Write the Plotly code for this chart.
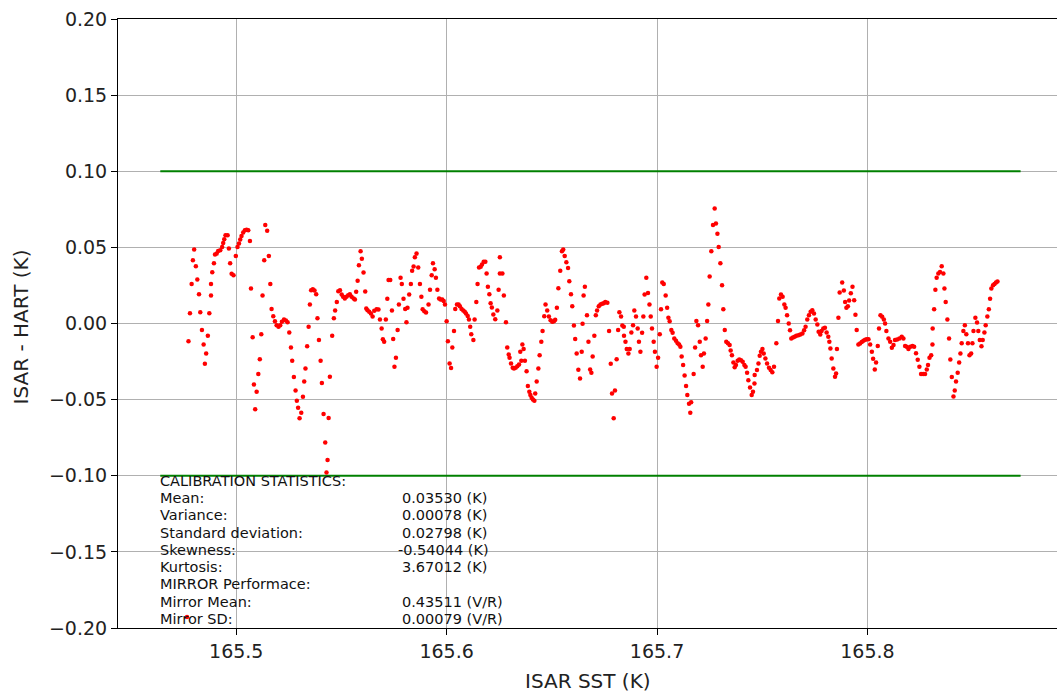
import plotly.graph_objects as go

# ISAR SST (K) and ISAR - HART difference (K) for each calibration sample
sst_k = [
    165.4773, 165.4780, 165.4788, 165.4794, 165.4800, 165.4808, 165.4815, 165.4823, 165.4829, 165.4837,
    165.4845, 165.4857, 165.4851, 165.4865, 165.4872, 165.4880, 165.4880, 165.4886, 165.4894, 165.4899,
    165.4907, 165.4914, 165.4924, 165.4933, 165.4938, 165.4943, 165.4949, 165.4959, 165.4965, 165.4971,
    165.4978, 165.4987, 165.4998, 165.5006, 165.5013, 165.5019, 165.5025, 165.5033,
    165.5041, 165.5049, 165.5057, 165.5065, 165.5070, 165.5078, 165.5084, 165.5090, 165.5097, 165.5105,
    165.5112, 165.5119, 165.5125, 165.5133, 165.5138, 165.5147, 165.5155, 165.5162, 165.5168, 165.5176,
    165.5184, 165.5192, 165.5201, 165.5209, 165.5217, 165.5227, 165.5236, 165.5244, 165.5252, 165.5260,
    165.5266, 165.5274, 165.5282, 165.5288, 165.5294, 165.5301, 165.5309, 165.5317, 165.5323, 165.5329,
    165.5337, 165.5344, 165.5350, 165.5356, 165.5364, 165.5372, 165.5380, 165.5386, 165.5393, 165.5401,
    165.5407, 165.5415, 165.5423, 165.5434, 165.5429, 165.5439, 165.5445,
    165.5456, 165.5464, 165.5470, 165.5478, 165.5485, 165.5493, 165.5501, 165.5508, 165.5516, 165.5524,
    165.5532, 165.5540, 165.5548, 165.5558, 165.5564, 165.5570, 165.5577, 165.5583, 165.5591, 165.5597,
    165.5605, 165.5613, 165.5618, 165.5624, 165.5632, 165.5640, 165.5648, 165.5656, 165.5667, 165.5676,
    165.5683, 165.5691, 165.5697, 165.5703, 165.5711, 165.5718, 165.5724, 165.5732, 165.5740, 165.5746,
    165.5752, 165.5759, 165.5767, 165.5773, 165.5781, 165.5787, 165.5795, 165.5803, 165.5809, 165.5814,
    165.5822, 165.5830, 165.5836, 165.5843, 165.5849,
    165.5857, 165.5865, 165.5873, 165.5880, 165.5886, 165.5894, 165.5902, 165.5914, 165.5921, 165.5929,
    165.5935, 165.5943, 165.5949, 165.5956, 165.5964, 165.5971, 165.5979, 165.5986, 165.5992, 165.6000,
    165.6006, 165.6014, 165.6021, 165.6027, 165.6035, 165.6041, 165.6049, 165.6057, 165.6063, 165.6071,
    165.6079, 165.6086, 165.6092, 165.6100, 165.6106, 165.6112, 165.6117, 165.6127, 165.6133, 165.6141,
    165.6147, 165.6154, 165.6162, 165.6168, 165.6176, 165.6184, 165.6190, 165.6196, 165.6203, 165.6209,
    165.6215, 165.6222, 165.6231, 165.6241, 165.6247, 165.6253, 165.6253,
    165.6265, 165.6272, 165.6282, 165.6288, 165.6295, 165.6299, 165.6306, 165.6314, 165.6320, 165.6328,
    165.6336, 165.6344, 165.6350, 165.6355, 165.6360, 165.6366, 165.6372, 165.6380, 165.6386, 165.6393,
    165.6398, 165.6404, 165.6410, 165.6417, 165.6421, 165.6428, 165.6436, 165.6442, 165.6450, 165.6456,
    165.6464, 165.6470, 165.6478, 165.6486, 165.6494, 165.6502, 165.6510, 165.6516, 165.6524, 165.6531,
    165.6540, 165.6548, 165.6554, 165.6561, 165.6569, 165.6577, 165.6583, 165.6591, 165.6597, 165.6605,
    165.6611, 165.6618, 165.6626, 165.6634, 165.6642, 165.6646, 165.6651, 165.6657,
    165.6667, 165.6674, 165.6682, 165.6688, 165.6694, 165.6702, 165.6709, 165.6715, 165.6723, 165.6731,
    165.6739, 165.6747, 165.6754, 165.6764, 165.6772, 165.6780, 165.6786, 165.6794, 165.6800, 165.6808,
    165.6815, 165.6821, 165.6829, 165.6835, 165.6842, 165.6843, 165.6850, 165.6856, 165.6864, 165.6870,
    165.6878, 165.6886, 165.6892, 165.6900, 165.6908, 165.6914, 165.6921, 165.6929, 165.6935, 165.6941,
    165.6949, 165.6957, 165.6964, 165.6970, 165.6976, 165.6984, 165.6990, 165.6998, 165.7005, 165.7013,
    165.7019, 165.7025, 165.7032, 165.7041, 165.7048, 165.7054, 165.7060,
    165.7068, 165.7074, 165.7082, 165.7090, 165.7098, 165.7105, 165.7111, 165.7117, 165.7124, 165.7131,
    165.7138, 165.7144, 165.7152, 165.7158, 165.7162, 165.7174, 165.7181, 165.7187, 165.7195, 165.7203,
    165.7209, 165.7217, 165.7223, 165.7231, 165.7238, 165.7244, 165.7250, 165.7258, 165.7266, 165.7274,
    165.7280, 165.7287, 165.7293, 165.7301, 165.7309, 165.7315, 165.7322, 165.7329, 165.7337, 165.7345,
    165.7350, 165.7356, 165.7363, 165.7369, 165.7375, 165.7383, 165.7391, 165.7399, 165.7407, 165.7415,
    165.7421, 165.7428, 165.7434, 165.7442, 165.7450, 165.7456, 165.7463, 165.7464,
    165.7475, 165.7482, 165.7488, 165.7494, 165.7501, 165.7507, 165.7515, 165.7523, 165.7532, 165.7540,
    165.7548, 165.7556, 165.7567, 165.7575, 165.7581, 165.7589, 165.7597, 165.7605, 165.7611, 165.7618,
    165.7626, 165.7632, 165.7638, 165.7646, 165.7654, 165.7662, 165.7672, 165.7681, 165.7691, 165.7699,
    165.7706, 165.7714, 165.7722, 165.7730, 165.7738, 165.7746, 165.7754, 165.7762, 165.7768, 165.7776,
    165.7782, 165.7790, 165.7798, 165.7806, 165.7814, 165.7819, 165.7824, 165.7830, 165.7838, 165.7846,
    165.7851, 165.7855, 165.7862, 165.7868,
    165.7880, 165.7888, 165.7894, 165.7900, 165.7907, 165.7913, 165.7921, 165.7929, 165.7937, 165.7943,
    165.7949, 165.7957, 165.7965, 165.7973, 165.7981, 165.7989, 165.7997, 165.8005, 165.8013, 165.8021,
    165.8027, 165.8035, 165.8041, 165.8049, 165.8055, 165.8062, 165.8070, 165.8078, 165.8084, 165.8090,
    165.8100, 165.8108, 165.8116, 165.8124, 165.8131, 165.8141, 165.8152, 165.8163, 165.8171, 165.8179,
    165.8187, 165.8195, 165.8204, 165.8214, 165.8222, 165.8231, 165.8239, 165.8247, 165.8255, 165.8265,
    165.8274,
    165.8282, 165.8288, 165.8295, 165.8303, 165.8309, 165.8310, 165.8317, 165.8323, 165.8329, 165.8337,
    165.8345, 165.8353, 165.8361, 165.8366, 165.8372, 165.8380, 165.8388, 165.8394, 165.8401, 165.8409,
    165.8415, 165.8421, 165.8429, 165.8436, 165.8442, 165.8448, 165.8456, 165.8463, 165.8470, 165.8478,
    165.8485, 165.8493, 165.8499, 165.8504, 165.8513, 165.8521, 165.8527, 165.8534, 165.8542, 165.8548,
    165.8556, 165.8562, 165.8570, 165.8577, 165.8583, 165.8589, 165.8597, 165.8604, 165.8611, 165.8618,
    165.4766,
]

diff_k = [
    -0.0116, 0.0068, 0.0260, 0.0416, 0.0486, 0.0376, 0.0289, 0.0192, 0.0074, -0.0042,
    -0.0138, -0.0197, -0.0265, -0.0081, 0.0068, 0.0184, 0.0260, 0.0337, 0.0396, 0.0453,
    0.0459, 0.0477, 0.0481, 0.0503, 0.0529, 0.0553, 0.0580, 0.0580, 0.0492, 0.0396,
    0.0326, 0.0317, 0.0444, 0.0503, 0.0525, 0.0551, 0.0575, 0.0597,
    0.0612, 0.0615, 0.0612, 0.0542, 0.0230, -0.0090, -0.0400, -0.0564, -0.0448, -0.0332,
    -0.0234, -0.0070, 0.0184, 0.0416, 0.0647, 0.0610, 0.0444, 0.0260, 0.0096, 0.0048,
    0.0015, -0.0011, -0.0022, -0.0011, 0.0011, 0.0026, 0.0020, 0.0009, -0.0059, -0.0157,
    -0.0245, -0.0352, -0.0440, -0.0507, -0.0553, -0.0623, -0.0586, -0.0481, -0.0381, -0.0295,
    -0.0149, -0.0022, 0.0125, 0.0219, 0.0225, 0.0217, 0.0192, 0.0035, -0.0109, -0.0245,
    -0.0391, -0.0595, -0.0781, -0.0897, -0.0978, -0.0621, -0.0350,
    -0.0081, 0.0035, 0.0085, 0.0142, 0.0212, 0.0219, 0.0190, 0.0175, 0.0164, 0.0175,
    0.0186, 0.0192, 0.0175, 0.0164, 0.0157, 0.0208, 0.0280, 0.0383, 0.0475, 0.0426,
    0.0335, 0.0210, 0.0098, 0.0087, 0.0077, 0.0066, 0.0046, 0.0083, 0.0094, 0.0092,
    0.0026, -0.0033, -0.0103, -0.0120, 0.0026, 0.0162, 0.0286, 0.0286, 0.0085, -0.0101,
    -0.0284, -0.0225, -0.0042, 0.0125, 0.0300, 0.0260, 0.0162, 0.0096, 0.0009, 0.0103,
    0.0190, 0.0260, 0.0346, 0.0374, 0.0435,
    0.0459, 0.0367, 0.0260, 0.0175, 0.0094, 0.0081, 0.0072, 0.0125, 0.0221, 0.0317,
    0.0396, 0.0356, 0.0300, 0.0221, 0.0164, 0.0157, 0.0157, 0.0147, 0.0125, 0.0015,
    -0.0116, -0.0262, -0.0293, -0.0157, -0.0050, 0.0096, 0.0125, 0.0125, 0.0114, 0.0096,
    0.0085, 0.0077, 0.0066, 0.0050, 0.0026, -0.0022, -0.0070, -0.0109, 0.0026, 0.0142,
    0.0260, 0.0367, 0.0372, 0.0387, 0.0405, 0.0405, 0.0328, 0.0241, 0.0192, 0.0133,
    0.0105, 0.0059, 0.0028, 0.0085, 0.0221, 0.0328, 0.0435,
    0.0328, 0.0184, 0.0009, -0.0157, -0.0203, -0.0225, -0.0262, -0.0291, -0.0295, -0.0291,
    -0.0280, -0.0269, -0.0186, -0.0245, -0.0138, -0.0168, -0.0245, -0.0313, -0.0411, -0.0448,
    -0.0470, -0.0488, -0.0499, -0.0507, -0.0459, -0.0381, -0.0295, -0.0208, -0.0120, -0.0050,
    0.0048, 0.0125, 0.0085, 0.0046, 0.0022, 0.0011, 0.0015, 0.0024, 0.0103, 0.0232,
    0.0346, 0.0475, 0.0486, 0.0444, 0.0402, 0.0365, 0.0278, 0.0192, 0.0114, -0.0013,
    -0.0101, -0.0197, -0.0304, -0.0361, -0.0186, -0.0002, 0.0184, 0.0241,
    0.0055, -0.0120, -0.0302, -0.0324, -0.0217, -0.0081, 0.0055, 0.0085, 0.0114, 0.0125,
    0.0129, 0.0133, 0.0142, 0.0136, -0.0050, -0.0265, -0.0459, -0.0623, -0.0440, -0.0234,
    -0.0042, 0.0074, 0.0046, -0.0013, -0.0022, -0.0081, -0.0120, -0.0168, -0.0197, -0.0168,
    -0.0059, -0.0011, 0.0085, 0.0046, -0.0033, -0.0120, -0.0186, -0.0061, 0.0046, 0.0190,
    0.0300, 0.0201, 0.0125, 0.0046, -0.0033, -0.0120, -0.0186, -0.0284, -0.0225, -0.0070,
    0.0094, 0.0269, 0.0260, 0.0184, 0.0103, 0.0037, 0.0015,
    -0.0042, -0.0061, -0.0098, -0.0114, -0.0129, -0.0138, -0.0153, -0.0217, -0.0273, -0.0341,
    -0.0411, -0.0470, -0.0527, -0.0586, -0.0518, -0.0332, -0.0157, 0.0017, -0.0011, -0.0120,
    -0.0208, -0.0284, -0.0197, -0.0098, 0.0017, 0.0125, 0.0308, 0.0475, 0.0647, 0.0755,
    0.0656, 0.0590, 0.0503, 0.0396, 0.0252, 0.0094, -0.0042, -0.0120, -0.0129, -0.0142,
    -0.0177, -0.0208, -0.0256, -0.0287, -0.0273, -0.0245, -0.0236, -0.0241, -0.0252, -0.0273,
    -0.0284, -0.0324, -0.0372, -0.0420, -0.0470, -0.0448, -0.0394, -0.0339,
    -0.0306, -0.0262, -0.0212, -0.0186, -0.0168, -0.0197, -0.0230, -0.0262, -0.0291, -0.0306,
    -0.0321, -0.0284, -0.0129, 0.0017, 0.0164, 0.0190, 0.0175, 0.0125, 0.0103, 0.0055,
    0.0000, -0.0044, -0.0098, -0.0092, -0.0087, -0.0081, -0.0077, -0.0072, -0.0066, -0.0044,
    -0.0022, 0.0026, 0.0055, 0.0077, 0.0087, 0.0066, 0.0026, -0.0007, -0.0055, -0.0072,
    -0.0050, -0.0033, -0.0028, -0.0059, -0.0087, -0.0120, -0.0164, -0.0230, -0.0295, -0.0350,
    -0.0328, -0.0168, 0.0037, 0.0203,
    0.0269, 0.0217, 0.0142, 0.0103, 0.0114, 0.0151, 0.0199, 0.0241, 0.0153, 0.0057,
    -0.0042, -0.0138, -0.0131, -0.0122, -0.0114, -0.0107, -0.0103, -0.0103, -0.0138, -0.0186,
    -0.0232, -0.0302, -0.0256, -0.0147, -0.0033, 0.0055, 0.0044, 0.0026, 0.0000, -0.0050,
    -0.0098, -0.0120, -0.0160, -0.0142, -0.0109, -0.0105, -0.0098, -0.0087, -0.0098, -0.0147,
    -0.0153, -0.0168, -0.0153, -0.0147, -0.0153, -0.0195, -0.0238, -0.0284, -0.0332, -0.0332,
    -0.0332,
    -0.0302, -0.0273, -0.0225, -0.0208, -0.0138, -0.0033, 0.0094, 0.0221, 0.0300, 0.0328,
    0.0339, 0.0376, 0.0328, 0.0230, 0.0142, 0.0026, -0.0098, -0.0236, -0.0352, -0.0479,
    -0.0440, -0.0381, -0.0324, -0.0256, -0.0197, -0.0129, -0.0050, -0.0011, -0.0070, -0.0129,
    -0.0208, -0.0197, -0.0129, -0.0050, 0.0037, 0.0007, -0.0050, -0.0109, -0.0149, -0.0109,
    -0.0059, -0.0011, 0.0046, 0.0094, 0.0162, 0.0230, 0.0252, 0.0260, 0.0269, 0.0276,
    -0.1927,
]

# acceptance limits drawn across the record
limit_x = [165.4639, 165.8728]
limit_levels = [0.10, -0.10]

# axis ticks
x_ticks = [165.5, 165.6, 165.7, 165.8]
x_tick_text = ["165.5", "165.6", "165.7", "165.8"]
y_ticks = [0.20, 0.15, 0.10, 0.05, 0.00, -0.05, -0.10, -0.15, -0.20]
y_tick_text = ["0.20", "0.15", "0.10", "0.05", "0.00", "\u22120.05", "\u22120.10", "\u22120.15", "\u22120.20"]

# calibration summary block
stat_labels = ["CALIBRATION STATISTICS:", "Mean:", "Variance:", "Standard deviation:", "Skewness:",
               "Kurtosis:", "MIRROR Performace:", "Mirror Mean:", "Mirror SD:"]
stat_values = ["", "0.03530 (K)", "0.00078 (K)", "0.02798 (K)", "-0.54044 (K)",
               "3.67012 (K)", "", "0.43511 (V/R)", "0.00079 (V/R)"]

FONT = "DejaVu Sans, Liberation Sans, sans-serif"

fig = go.Figure()

for lvl in limit_levels:
    fig.add_trace(go.Scatter(
        x=limit_x, y=[lvl, lvl], mode="lines",
        line=dict(color="#008000", width=2), hoverinfo="skip",
    ))

fig.add_trace(go.Scatter(
    x=sst_k, y=diff_k, mode="markers",
    marker=dict(color="#ff0000", size=4.5, line=dict(width=0)),
))

# text block anchored in data coordinates
label_x = limit_x[0]
value_x = 165.5788
first_y = -0.1033
line_step = 0.01135
stat_font = dict(family=FONT, size=14.5, color="#111111")
annotations = []
for i, (lab, val) in enumerate(zip(stat_labels, stat_values)):
    yy = first_y - i * line_step
    annotations.append(dict(x=label_x, y=yy, xref="x", yref="y", text=lab, showarrow=False,
                            xanchor="left", yanchor="middle", xshift=-2, font=stat_font))
    if val:
        vx = value_x - (0.0018 if val.startswith("-") else 0.0)
        annotations.append(dict(x=vx, y=yy, xref="x", yref="y", text=val, showarrow=False,
                                xanchor="left", yanchor="middle", xshift=-2, font=stat_font))

# axis titles
title_font = dict(family=FONT, size=20, color="#222222")
annotations.append(dict(x=0.5, y=0, xref="paper", yref="paper", yshift=-53, text="ISAR SST (K)",
                        showarrow=False, xanchor="center", yanchor="middle", font=title_font))
annotations.append(dict(x=0, y=0.5, xref="paper", yref="paper", xshift=-98, yshift=-4,
                        text="ISAR - HART (K)", textangle=-90, showarrow=False,
                        xanchor="center", yanchor="middle", font=title_font))

fig.update_layout(
    width=1058, height=693,
    margin=dict(l=118, r=1, t=19, b=65),
    paper_bgcolor="white", plot_bgcolor="white",
    showlegend=False,
    annotations=annotations,
    font=dict(family=FONT, color="black"),
)

tick_font = dict(family=FONT, size=19, color="#222222")
fig.update_xaxes(
    range=[165.4438, 165.8901], tickvals=x_ticks, ticktext=x_tick_text,
    showgrid=True, gridcolor="#b0b0b0", gridwidth=1, zeroline=False,
    showline=True, linecolor="black", linewidth=1, mirror=True,
    ticks="outside", ticklen=6, tickwidth=1, tickcolor="black",
    tickfont=tick_font,
)
fig.update_yaxes(
    range=[-0.2, 0.2], tickvals=y_ticks, ticktext=y_tick_text,
    showgrid=True, gridcolor="#b0b0b0", gridwidth=1, zeroline=False,
    showline=True, linecolor="black", linewidth=1, mirror=False,
    ticks="outside", ticklen=6, tickwidth=1, tickcolor="black",
    tickfont=tick_font,
)

fig.write_html("out.html")
